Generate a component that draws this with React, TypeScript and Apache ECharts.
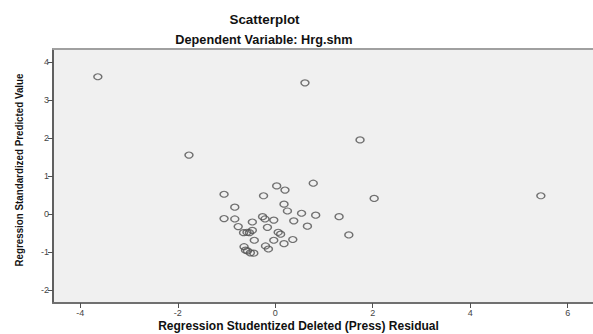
import React, { useEffect, useRef } from "react";
import * as echarts from "echarts";

const xValues = [
  -3.64, -1.77, 0.61, 1.74, 5.45, 2.03, 0.78, -1.05, 0.03, 0.2, -0.24, -0.83, 0.18, 0.25, 0.54,
  0.83, 1.31, -1.05, -0.83, -0.26, -0.21, -0.03, -0.47, 0.38, 0.66, -0.76, -0.16, -0.65, -0.58,
  -0.53, -0.47, 0.06, 0.11, 1.51, -0.43, -0.03, 0.36, 0.18, -0.64, -0.61, -0.57, -0.51, -0.44,
  -0.2, -0.14,
];
const yValues = [
  3.61, 1.55, 3.45, 1.95, 0.48, 0.41, 0.81, 0.52, 0.74, 0.63, 0.48, 0.18, 0.26, 0.08, 0.02,
  -0.03, -0.07, -0.12, -0.13, -0.07, -0.13, -0.16, -0.21, -0.18, -0.32, -0.33, -0.35, -0.49,
  -0.48, -0.49, -0.43, -0.48, -0.53, -0.55, -0.69, -0.69, -0.67, -0.78, -0.86, -0.95, -0.97,
  -1.02, -1.03, -0.84, -0.92,
];
const xTicks = [-4, -2, 0, 2, 4, 6];
const yTicks = [-2, -1, 0, 1, 2, 3, 4];

const title = "Scatterplot";
const subtitle = "Dependent Variable: Hrg.shm";
const xTitle = "Regression Studentized Deleted (Press) Residual";
const yTitle = "Regression Standardized Predicted Value";

export default function App() {
  const ref = useRef<HTMLDivElement>(null);
  useEffect(() => {
    if (!ref.current) return;
    const chart = echarts.init(ref.current, null, { renderer: "svg" });
    const data = xValues.map((x, i) => [x, yValues[i]]);
    const font = "Arial, 'Liberation Sans', sans-serif";
    chart.setOption({
      animation: false,
      backgroundColor: "#ffffff",
      grid: {
        left: 53,
        right: 0,
        top: 49,
        bottom: 31,
        show: true,
        backgroundColor: "#f0f0f0",
        borderWidth: 0,
      },
      xAxis: [
        {
          type: "value",
          min: -4.56,
          max: 6.52,
          splitLine: { show: false },
          axisLine: { show: true, onZero: false, lineStyle: { color: "#707070", width: 2 } },
          axisTick: {
            show: true,
            length: 5,
            customValues: xTicks,
            lineStyle: { color: "#505050", width: 1 },
          },
          axisLabel: {
            customValues: xTicks,
            color: "#444",
            fontSize: 9,
            fontFamily: font,
            margin: 5,
          },
        },
        {
          type: "value",
          position: "top",
          min: -4.56,
          max: 6.52,
          splitLine: { show: false },
          axisLine: { show: true, onZero: false, lineStyle: { color: "#a0a0a0", width: 2 } },
          axisTick: { show: false },
          axisLabel: { show: false },
        },
      ],
      yAxis: {
        type: "value",
        min: -2.34,
        max: 4.34,
        splitLine: { show: false },
        axisLine: { show: true, onZero: false, lineStyle: { color: "#606060", width: 2 } },
        axisTick: {
          show: true,
          length: 5,
          customValues: yTicks,
          lineStyle: { color: "#505050", width: 1 },
        },
        axisLabel: {
          customValues: yTicks,
          color: "#444",
          fontSize: 9,
          fontFamily: font,
          margin: 4,
        },
      },
      series: [
        {
          type: "scatter",
          data,
          symbol: "circle",
          symbolSize: [8, 6],
          itemStyle: { color: "rgba(0,0,0,0)", borderColor: "#505050", borderWidth: 1.3 },
        },
      ],
      graphic: [
        {
          type: "text",
          x: 264.5,
          y: 20,
          scaleX: 1.12,
          style: {
            text: title,
            fontSize: 12,
            fontWeight: "bold",
            fontFamily: font,
            fill: "#111",
            align: "center",
            verticalAlign: "middle",
          },
        },
        {
          type: "text",
          x: 264,
          y: 40,
          scaleX: 1.06,
          style: {
            text: subtitle,
            fontSize: 12,
            fontWeight: "bold",
            fontFamily: font,
            fill: "#111",
            align: "center",
            verticalAlign: "middle",
          },
        },
        {
          type: "text",
          x: 298.5,
          y: 326,
          style: {
            text: xTitle,
            fontSize: 12,
            fontWeight: "bold",
            fontFamily: font,
            fill: "#111",
            align: "center",
            verticalAlign: "middle",
          },
        },
        {
          type: "text",
          x: 19,
          y: 170,
          rotation: Math.PI / 2,
          scaleX: 0.89,
          style: {
            text: yTitle,
            fontSize: 11,
            fontWeight: "bold",
            fontFamily: font,
            fill: "#111",
            align: "center",
            verticalAlign: "middle",
          },
        },
      ],
    });
    return () => chart.dispose();
  }, []);
  return (
    <div
      ref={ref}
      style={{ position: "fixed", left: 0, top: 0, width: 593, height: 334 }}
    />
  );
}
